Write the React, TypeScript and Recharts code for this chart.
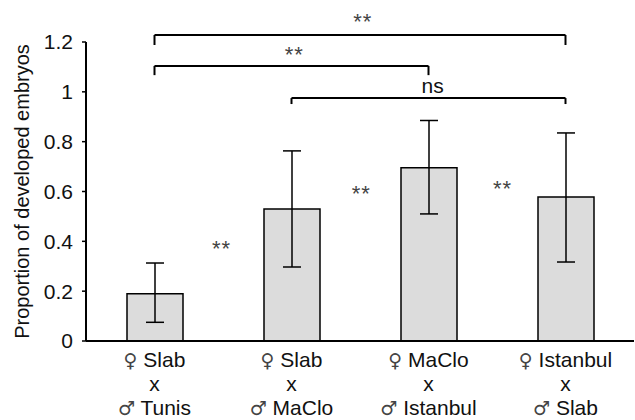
import React from 'react';
import { Bar, BarChart, ErrorBar, ReferenceDot, ReferenceLine, XAxis, YAxis } from 'recharts';

const females = ['Slab', 'Slab', 'MaClo', 'Istanbul'];
const males = ['Tunis', 'MaClo', 'Istanbul', 'Slab'];
const proportions = [0.19, 0.53, 0.695, 0.578];
const errMinus = [0.115, 0.233, 0.185, 0.261];
const errPlus = [0.123, 0.233, 0.19, 0.257];
const yTicks = [0, 0.2, 0.4, 0.6, 0.8, 1, 1.2];
const yTickLabels = ['0', '0.2', '0.4', '0.6', '0.8', '1', '1.2'];

// significance brackets (bar indexes, height in data units)
const bracketFrom = [0, 0, 1];
const bracketTo = [3, 2, 3];
const bracketY = [1.228, 1.104, 0.975];
const bracketDrop = [0.04, 0.037, 0.024];
const bracketText = ['**', '**', 'ns'];
const bracketTextY = [1.3, 1.168, 1.02];

// stars between neighbouring bars
const starX = [0.49, 1.51, 2.54];
const starY = [0.39, 0.61, 0.63];

const FONT = '"Liberation Sans", Arial, Helvetica, sans-serif';

const data = females.map((f, i) => ({
  name: `${f}|${males[i]}`,
  idx: i,
  value: proportions[i],
  err: [errMinus[i], errPlus[i]],
}));

function CrossTick(props: any) {
  const { x, y, payload } = props;
  const [f, m] = String(payload.value).split('|');
  const sym = { fontFamily: '"DejaVu Sans", sans-serif', fontSize: 19, fill: '#444' };
  return (
    <text x={x} y={y} textAnchor="middle" fontFamily={FONT} fontSize={21} fill="#111">
      <tspan x={x} dy={18}>
        <tspan {...sym}>{'\u2640'}</tspan>
        {' ' + f}
      </tspan>
      <tspan x={x} dy={24}>x</tspan>
      <tspan x={x} dy={24}>
        <tspan {...sym}>{'\u2642'}</tspan>
        {' ' + m}
      </tspan>
    </text>
  );
}

function YLabel(props: any) {
  const { viewBox } = props;
  const cx = 22;
  const cy = viewBox.y + viewBox.height / 2;
  return (
    <text
      x={cx}
      y={cy}
      transform={`rotate(-90, ${cx}, ${cy})`}
      textAnchor="middle"
      dominantBaseline="central"
      fontFamily={FONT}
      fontSize={20}
      fill="#111"
    >
      Proportion of developed embryos
    </text>
  );
}

const textShape = (txt: string, color: string, shift: number, size: number, spacing: number) => (p: any) => (
  <text
    x={p.cx}
    y={p.cy + shift}
    textAnchor="middle"
    fontFamily={FONT}
    fontSize={size}
    letterSpacing={spacing}
    fill={color}
  >
    {txt}
  </text>
);

export default function App() {
  return (
    <div style={{ position: 'absolute', left: 0, top: 0 }}>
      <BarChart width={635} height={420} data={data} margin={{ top: 42, right: 1, bottom: 0, left: 0 }}>
        <XAxis
          dataKey="name"
          height={79}
          tickLine={false}
          axisLine={{ stroke: '#000', strokeWidth: 2 }}
          tick={<CrossTick />}
          interval={0}
        />
        <XAxis xAxisId="num" type="number" dataKey="idx" domain={[-0.5, 3.5]} hide allowDataOverflow />
        <YAxis
          width={86}
          domain={[0, 1.2]}
          ticks={yTicks}
          tickFormatter={(v: number) => yTickLabels[yTicks.indexOf(v)] ?? String(v)}
          tickSize={4}
          tickMargin={9}
          tickLine={{ stroke: '#000', strokeWidth: 1.5 }}
          axisLine={{ stroke: '#000', strokeWidth: 2 }}
          tick={{ fill: '#111', fontSize: 21, fontFamily: FONT }}
          label={<YLabel />}
        />
        <Bar dataKey="value" barSize={56} fill="#dcdcdc" stroke="#000" strokeWidth={1.5} isAnimationActive={false}>
          <ErrorBar dataKey="err" width={9} stroke="#000" strokeWidth={1.5} direction="y" />
        </Bar>
        {bracketFrom.map((from, i) => (
          <React.Fragment key={`br${i}`}>
            <ReferenceLine
              xAxisId="num"
              ifOverflow="visible"
              stroke="#000"
              strokeWidth={2}
              segment={[{ x: from, y: bracketY[i] }, { x: bracketTo[i], y: bracketY[i] }]}
            />
            <ReferenceLine
              xAxisId="num"
              ifOverflow="visible"
              stroke="#000"
              strokeWidth={2}
              segment={[{ x: from, y: bracketY[i] }, { x: from, y: bracketY[i] - bracketDrop[i] }]}
            />
            <ReferenceLine
              xAxisId="num"
              ifOverflow="visible"
              stroke="#000"
              strokeWidth={2}
              segment={[{ x: bracketTo[i], y: bracketY[i] }, { x: bracketTo[i], y: bracketY[i] - bracketDrop[i] }]}
            />
            <ReferenceDot
              xAxisId="num"
              ifOverflow="visible"
              x={(from + bracketTo[i]) / 2 + (bracketText[i] === 'ns' ? 0.03 : 0.02)}
              y={bracketTextY[i]}
              r={0}
              shape={
                bracketText[i] === 'ns'
                  ? textShape('ns', '#111', 6, 21, 0)
                  : textShape(bracketText[i], '#444', 12, 22, 1)
              }
            />
          </React.Fragment>
        ))}
        {starX.map((sx, i) => (
          <ReferenceDot
            key={`st${i}`}
            xAxisId="num"
            ifOverflow="visible"
            x={sx}
            y={starY[i]}
            r={0}
            shape={textShape('**', '#444', 12, 22, 1)}
          />
        ))}
      </BarChart>
    </div>
  );
}
